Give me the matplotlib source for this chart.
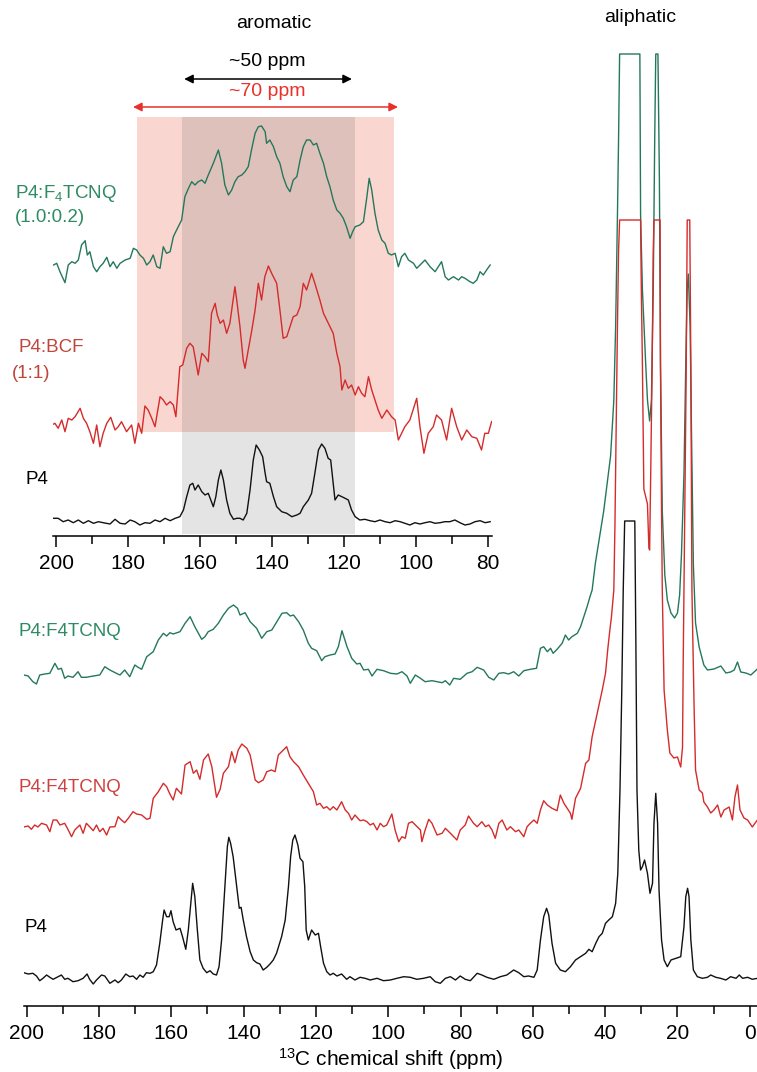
import numpy as np
import matplotlib
matplotlib.use("Agg")
import matplotlib.pyplot as plt
from matplotlib.ticker import MultipleLocator

plt.rcParams['font.family'] = ['Liberation Sans', 'DejaVu Sans']
plt.rcParams['mathtext.fontset'] = 'custom'
plt.rcParams['mathtext.rm'] = 'Liberation Sans'
plt.rcParams['mathtext.it'] = 'Liberation Sans:italic'

# ---- main spectra: (ppm, intensity above own baseline) ----
main_green = [
    (200.8, 0), (199.6, -1), (198.3, -6.7), (197.3, -9), (196.4, 0), (195.0, 1), (193.6, 1.7), (192.2, 11.7),
    (191.3, 5.7), (190.4, 6.7), (189.5, -3.3), (188.6, -1), (187.2, -2.3), (185.8, 3.3), (184.9, -2.3),
    (183.5, -2.3), (181.6, -1), (179.8, 0), (178.4, 8.3), (177.0, 5), (175.2, 1.7), (174.2, 0), (172.9, 5),
    (171.5, -1.7), (170.1, 10), (169.2, 7.7), (168.2, 5.7), (166.8, 18.3), (165.0, 23.3), (163.6, 35),
    (162.2, 41.7), (161.3, 39), (160.4, 42.3), (159.5, 41), (157.6, 43.3), (156.2, 51.7), (154.8, 58.3),
    (153.5, 48.3), (151.6, 35.7), (150.7, 38.3), (149.8, 43.3), (148.4, 45.7), (147.0, 51.7), (145.6, 60),
    (144.2, 66.7), (142.8, 70), (141.7, 66.7), (141.0, 60), (139.6, 62.3), (138.2, 53.3), (136.4, 46.7),
    (135.0, 36.7), (133.6, 43.3), (132.2, 45), (130.8, 53.3), (129.4, 61.7), (128.1, 62.3), (127.1, 59),
    (126.2, 60), (124.8, 53.3), (123.5, 45), (122.1, 31.7), (121.2, 26.7), (119.8, 24.3), (118.4, 14.3),
    (117.5, 18.3), (116.1, 20), (114.7, 21), (113.8, 28.3), (112.8, 44.3), (111.4, 28.3), (110.1, 16.7),
    (108.7, 11), (107.8, 11.7), (106.8, 5), (105.5, 5.7), (104.5, -1), (103.1, 5.7), (101.3, 4.3), (99.4, 1.7),
    (97.6, 1), (96.2, 3.3), (94.8, -1), (93.9, -8.3), (92.5, 0), (91.1, -3.3), (89.8, -6.7), (87.9, -5.7),
    (86.5, -6.7), (85.1, -7.7), (84.2, -5.7), (83.0, -10), (81.9, -3.3), (80.1, -4.3), (78.2, 1.7), (76.8, 3.3),
    (75.4, 7.7), (73.6, 5), (72.2, -2.3), (70.8, -5), (69.4, 1.7), (68.1, 2.3), (66.7, 1), (65.3, 3.3),
    (63.9, -1), (62.5, 4.3), (60.7, 5.7), (59.0, 6.7), (57.9, 26.7), (57.0, 28.3), (56.0, 23.3), (55.1, 26.7),
    (54.4, 21.7), (53.3, 25.7), (51.9, 31.7), (51.0, 40), (50.1, 35), (49.2, 38.3), (47.7, 41.7), (46.8, 48.3),
    (45.9, 58.3), (45.0, 68.3), (44.2, 78.3), (43.6, 85), (42.7, 112), (40.4, 164), (38.5, 219), (37.6, 275),
    (37.1, 349), (36.6, 460), (36.3, 534), (36.0, 621), (30.4, 621), (30.2, 460), (29.7, 386), (28.8, 312),
    (28.3, 275), (27.7, 254), (27.2, 275), (26.7, 386), (26.3, 534), (26.0, 621), (25.4, 621), (25.0, 497),
    (24.7, 312), (24.2, 164), (23.5, 100), (22.8, 75), (21.8, 62), (20.8, 57), (20.0, 62), (19.4, 80),
    (18.9, 120), (18.2, 201), (17.7, 312), (17.3, 386), (17.0, 401), (16.5, 349), (16.1, 238), (15.6, 110),
    (15.0, 52), (14.0, 28), (12.7, 10), (11.7, 5), (9.9, 6), (8.0, 9), (6.6, 2), (5.3, 3), (4.3, 5), (3.4, 13),
    (2.5, 3), (1.1, 2), (-0.3, 0), (-2.1, 6),
]

main_red = [
    (200.8, 0), (199.6, 1), (198.7, -2.3), (197.8, 2), (196.9, 0), (195.9, 3.7), (194.5, 2), (193.6, -4.7),
    (192.7, 7), (191.7, 7), (190.8, 2), (189.5, 3.7), (188.6, -2.3), (187.6, -9.7), (186.7, -3), (185.3, 2),
    (184.4, -6.3), (183.5, 3.7), (182.6, 0.3), (181.6, -3.7), (180.7, 2), (179.8, -4.7), (178.9, -1.3),
    (177.9, -8), (177.0, 0), (175.6, 0.3), (174.7, 10.3), (173.8, 7), (172.9, 4.3), (171.9, 8.7), (170.6, 15.3),
    (169.6, 13), (168.2, 12), (166.8, 7.7), (165.9, 8.7), (165.0, 28.7), (163.6, 35.3), (162.2, 43.7),
    (161.3, 40.3), (160.4, 33), (159.5, 27), (158.6, 38.7), (157.2, 33), (156.2, 62), (154.8, 65.3),
    (153.9, 53.7), (153.0, 57), (152.1, 47.7), (151.1, 67), (149.8, 73), (148.8, 60.3), (147.5, 29.7),
    (146.5, 37.7), (145.6, 53.7), (144.2, 60.3), (143.3, 75.3), (142.4, 64.3), (141.5, 77), (140.5, 83),
    (139.1, 78.7), (138.2, 72), (136.8, 47), (135.9, 44.3), (134.6, 47), (133.6, 55.3), (132.3, 57),
    (131.3, 55.3), (130.4, 72), (129.5, 75.3), (128.1, 80.3), (127.2, 70.3), (126.2, 65.3), (124.8, 60.3),
    (123.5, 52), (122.1, 43.7), (120.7, 35.3), (119.8, 22), (118.9, 23.7), (117.9, 18.7), (117.0, 20.3),
    (116.1, 17), (115.2, 20.3), (114.2, 17), (112.9, 25.3), (111.9, 17), (111.0, 13.7), (110.1, 7), (109.2, 12),
    (107.8, 6.3), (106.8, 7), (105.9, 5.3), (105.0, 2), (104.1, 3.7), (103.1, -3), (102.2, 3.7), (101.3, 0.3),
    (100.4, 2), (99.0, 13), (98.1, -3), (97.1, -14.7), (96.2, -9.7), (95.3, -11.3), (94.4, 3.7), (93.4, 5.3),
    (92.5, 2), (91.1, -3), (90.7, -14.7), (89.8, -3), (88.8, 7.7), (87.9, 3.7), (86.5, -8), (85.1, -6.3),
    (84.2, -1.3), (82.8, -6.3), (81.0, -13), (80.1, -3), (78.7, 2), (77.8, 11), (76.4, 3.7), (75.4, 0.3),
    (74.1, 5.3), (73.1, 0.3), (72.2, 2), (71.3, -3), (70.4, -11.3), (69.4, 3.7), (68.5, 7), (67.2, -3),
    (66.2, 0.3), (64.8, -4.7), (63.9, -3), (62.5, -9.7), (61.6, 0.3), (60.7, 3.7), (59.7, 7), (58.8, 3.7),
    (57.9, 17), (57.0, 26.3), (56.0, 22), (54.7, 18.7), (53.3, 16.3), (52.4, 32), (51.4, 23.7), (50.5, 18.7),
    (49.6, 13.7), (49.2, 7.7), (48.2, 28.7), (46.8, 38.7), (45.4, 63.7), (44.5, 67), (43.6, 90.3), (42.6, 107),
    (41.7, 122), (40.8, 137), (39.9, 153.7), (39.3, 177), (38.7, 197), (38.3, 208.7), (37.6, 237), (37.3, 300),
    (37.0, 390), (36.6, 501), (36.3, 575), (36.0, 607), (30.2, 607), (30.0, 538), (29.7, 464), (29.3, 338),
    (28.3, 323), (27.9, 279), (27.7, 277), (27.4, 353), (27.0, 464), (26.7, 575), (26.5, 607), (24.8, 607),
    (24.7, 464), (24.4, 316), (24.2, 237), (23.7, 137), (22.8, 97), (22.1, 74), (21.0, 69), (20.0, 70),
    (19.1, 60), (18.6, 80), (18.4, 170), (18.2, 237), (17.6, 450), (17.3, 607), (16.6, 607), (16.3, 464),
    (16.0, 237), (15.4, 120), (15.0, 57), (14.0, 37), (13.1, 34), (12.7, 25), (11.7, 20), (10.8, 14), (9.9, 17),
    (8.9, 22), (8.0, 10), (7.1, 17), (5.7, 20), (4.8, 7), (4.1, 30), (3.4, 42), (2.7, 17), (1.6, 9), (0.6, 7),
    (-0.7, 0), (-2.1, 7),
]

main_black = [
    (200.8, 2.3), (199.6, 1), (198.3, 1.7), (197.3, -1), (196.4, -5.7), (195.5, -3.3), (194.5, 0), (193.6, -2.3),
    (192.7, -4.3), (191.3, -1.7), (190.4, 0), (189.5, -4.3), (188.6, -3.3), (187.2, -6.7), (185.8, -5.7),
    (184.4, -3.3), (183.3, 1), (182.6, -4.3), (181.6, -9), (180.7, -5), (179.3, 0), (178.4, -1), (177.0, -8.3),
    (175.6, -5), (174.7, -7.7), (173.8, -5), (172.6, 1), (171.5, -1.7), (170.6, -1), (169.6, -4.3), (168.7, 0),
    (167.8, -2.3), (166.9, 2.3), (165.9, 1.7), (165.0, 3.3), (164.1, 10), (163.2, 31.7), (162.4, 55), (162.0, 65),
    (161.3, 58.3), (160.6, 58.3), (160.1, 64.3), (159.5, 53.3), (158.7, 45), (157.6, 46.7), (156.9, 38.3),
    (156.0, 25.7), (155.3, 45), (154.6, 71.7), (154.1, 91.7), (153.5, 78.3), (152.8, 45), (152.1, 15),
    (151.2, 6.7), (150.2, 2.3), (149.3, 4.3), (148.4, 1), (147.5, 0), (146.8, 8.3), (146.1, 35), (145.2, 88.3),
    (144.5, 128.3), (144.1, 137.7), (143.6, 131.7), (142.9, 118.3), (141.9, 88.3), (141.2, 66.7), (140.7, 67.7),
    (140.1, 55), (139.2, 38.3), (138.2, 23.3), (137.3, 15), (136.4, 12.3), (135.5, 11), (134.6, 5), (133.6, 7.7),
    (132.7, 11), (131.8, 15), (130.9, 21.7), (129.5, 38.3), (128.5, 55), (127.6, 88.3), (127.0, 118.3),
    (126.4, 135), (125.8, 140), (125.0, 130), (124.4, 116.7), (123.6, 113.3), (123.1, 88.3), (122.7, 45),
    (122.1, 35), (121.2, 45), (120.2, 40), (119.3, 41.7), (118.7, 28.3), (117.9, 11.7), (117.0, 3.3), (116.1, 0),
    (115.2, 1.7), (114.2, -1), (112.9, 1), (111.5, -4.3), (110.6, -1.7), (109.2, -5), (107.8, -2.3), (106.4, -3.3),
    (105.0, -5), (103.1, -3.3), (101.3, -5.7), (99.4, -5), (97.6, -3.3), (95.7, -1.7), (93.9, -2.3), (92.1, -4.3),
    (90.2, -3.3), (88.4, -1.7), (87.0, -6.7), (85.6, -8.3), (84.2, -3.3), (82.8, -1.7), (81.4, -5), (80.1, -1),
    (78.7, -4.3), (77.3, -5.7), (75.4, 1.7), (74.1, 0), (72.7, -2.3), (70.8, -4.3), (69.0, -1.7), (67.2, 0),
    (65.3, 5), (63.9, 2.3), (62.5, -1.7), (61.2, -1), (59.7, -2.3), (58.8, 5), (57.9, 35), (57.0, 58.3),
    (56.2, 66.7), (55.6, 60), (54.7, 31.7), (53.7, 11.7), (52.4, 5), (51.0, 3.3), (49.6, 8.3), (48.2, 15),
    (46.8, 18.3), (45.4, 21.7), (44.5, 25.7), (43.6, 23.3), (42.6, 31.7), (41.7, 38.3), (40.8, 41.7),
    (39.9, 51.7), (39.0, 55), (38.0, 58.3), (37.1, 71.7), (36.5, 101.7), (35.9, 185), (35.4, 285), (35.0, 385),
    (34.6, 454), (31.8, 454), (31.5, 330), (31.2, 185), (30.7, 125), (30.2, 105), (29.7, 108.3), (29.1, 115),
    (28.3, 101.7), (27.6, 81.7), (26.9, 91.7), (26.5, 151.7), (26.0, 181.7), (25.5, 151.7), (25.1, 85),
    (24.4, 35), (23.7, 15), (22.8, 8.3), (21.8, 15), (20.4, 16.7), (19.1, 18.3), (18.2, 48.3), (17.7, 78.3),
    (17.2, 86.7), (16.8, 78.3), (16.3, 35), (15.6, 5), (14.5, -1.7), (13.1, -3.3), (11.7, -2.3), (10.8, 0),
    (9.4, -2.3), (8.1, -3.3), (6.6, -5), (5.3, -1.7), (3.8, -3.3), (2.9, 0), (2.0, -3.3), (0.6, -2.3),
    (-0.7, -4.3), (-2.1, -3.3),
]

# ---- inset (aromatic zoom) spectra ----
inset_green = [
    (200.7, 0), (199.8, 1.7), (198.9, -6.7), (197.5, -17.7), (196.6, 0), (195.6, 3.3), (194.7, 1.7), (193.8, 5),
    (192.9, 20), (191.9, 24.3), (191.3, 10), (190.6, 13.3), (189.6, -1.7), (188.7, -6.7), (187.8, -1.7),
    (186.9, 1.7), (185.9, 7.7), (185.0, -1.7), (184.1, 3.3), (183.1, -3.3), (182.2, 1.7), (180.8, 5), (179.4, 6.7),
    (178.5, 16.7), (177.6, 15), (176.7, 10), (175.7, 6.7), (174.8, 0), (173.9, 3.3), (173.0, 10), (172.0, -1.7),
    (171.1, -3.3), (170.2, 18.3), (169.3, 11.7), (168.3, 13.3), (167.4, 28.3), (166.5, 35), (165.1, 45),
    (164.2, 68.3), (163.2, 76.7), (162.3, 83.3), (161.4, 80), (160.5, 83.3), (159.5, 85), (158.6, 81.7),
    (157.7, 90), (156.3, 101.7), (154.9, 115), (154.0, 101.7), (153.1, 80), (152.1, 70), (151.2, 75),
    (150.3, 83.3), (149.4, 88.3), (148.4, 90), (147.5, 93.3), (146.6, 98.3), (145.6, 116.7), (144.7, 131.7),
    (143.8, 138.3), (142.9, 139), (141.9, 133.3), (141.5, 121.7), (140.6, 125), (139.6, 118.3), (138.7, 108.3),
    (137.8, 101.7), (136.9, 88.3), (135.9, 78.3), (135.0, 73.3), (134.1, 85), (133.1, 88.3), (132.2, 105),
    (131.3, 118.3), (130.4, 125), (129.4, 125), (128.5, 120), (127.6, 121.7), (126.7, 111.7), (125.7, 101.7),
    (124.8, 88.3), (123.9, 78.3), (123.0, 65), (122.0, 55), (121.1, 51.7), (120.2, 46.7), (119.3, 38.3),
    (118.3, 26.7), (117.6, 33.3), (116.9, 38.3), (115.6, 40), (114.6, 43.3), (113.7, 66.7), (113.0, 86.7),
    (112.3, 75), (111.4, 51.7), (110.5, 35), (109.5, 25), (108.6, 21.7), (107.7, 11.7), (106.8, 10),
    (105.8, 11.7), (104.9, -1.7), (104.0, 8.3), (103.1, 11.7), (102.1, 5), (100.7, 1.7), (99.8, -3.3),
    (98.4, 1.7), (97.5, 5), (96.1, -1.7), (94.7, -6.7), (93.8, -1.7), (92.9, 3.3), (91.9, -11.7), (91.0, -15),
    (89.6, -11.7), (88.2, -15), (87.3, -11.7), (86.4, -13.3), (85.0, -16.7), (84.1, -18.3), (83.1, -15),
    (82.2, -6.7), (81.3, -10), (80.4, -5), (79.4, 0),
]

inset_red = [
    (201.2, 0), (200.3, 1.7), (199.4, -3.3), (198.4, 5), (197.5, -6.7), (196.6, 6.7), (195.6, 5), (194.7, 8.3),
    (193.3, 16.7), (192.4, 6.7), (191.5, 1.7), (190.6, -6.7), (189.6, -18.3), (188.7, 0), (187.8, -21.7),
    (186.9, -8.3), (185.9, 1.7), (184.8, 7.7), (183.6, -5), (182.7, -1.7), (181.8, 3.3), (180.4, -6.7),
    (179.0, 0), (178.1, -18.3), (177.1, 1.7), (176.2, -8.3), (175.3, 19), (174.4, 15), (173.4, 6.7),
    (172.5, -1.7), (171.1, 28.3), (170.2, 25), (169.3, 20), (168.3, 23.3), (167.4, 20), (166.7, 8.3),
    (165.6, 58.3), (164.8, 60), (163.7, 76.7), (162.8, 81.7), (161.9, 78.3), (160.9, 58.3), (160.5, 50),
    (159.5, 71.7), (158.6, 68.3), (157.7, 63.3), (156.8, 111.7), (155.8, 121.7), (155.2, 110), (154.4, 101.7),
    (153.5, 105), (152.6, 91.7), (151.7, 101.7), (150.3, 138.3), (149.8, 125), (148.9, 98.3), (148.0, 65),
    (147.5, 56.7), (146.6, 75), (145.6, 95), (144.7, 115), (143.8, 141.7), (142.9, 125), (142.0, 148.3),
    (141.0, 159), (140.1, 151.7), (138.7, 141.7), (137.8, 115), (136.9, 86.7), (135.9, 88.3), (135.0, 98.3),
    (134.1, 108.3), (133.1, 110), (132.2, 118.3), (131.3, 141.7), (130.4, 135), (129.0, 151.7), (128.1, 141.7),
    (126.7, 125), (125.7, 111.7), (124.8, 105), (123.0, 91.7), (122.0, 71.7), (121.1, 58.3), (120.6, 35),
    (119.7, 45), (118.8, 36.7), (117.9, 40), (116.9, 30), (116.0, 38.3), (115.1, 31.7), (114.2, 28.3),
    (113.2, 48.3), (112.3, 35), (111.4, 25), (110.5, 15), (109.5, 6.7), (108.1, 15), (106.8, 8.3), (105.8, 5),
    (104.9, -15), (104.0, -8.3), (103.1, -1.7), (101.7, 5), (99.8, 26.7), (98.9, -1.7), (97.8, -28.3),
    (96.6, -8.3), (95.2, -1.7), (94.3, 10), (92.9, 5), (91.5, -15), (90.1, 16.7), (88.7, -1.7), (87.3, -15),
    (85.9, -5), (84.5, -11.7), (83.1, -13.3), (81.8, -25), (80.9, -8.3), (79.9, -8.3), (79.0, 3.3),
]

inset_black = [
    (200.7, 1.7), (199.4, 1.7), (198.0, -1.7), (196.6, 0), (195.2, -2.7), (193.8, 0), (192.4, -3.3), (191.0, -0.7),
    (189.6, -3.3), (188.2, -1.7), (186.9, -2.7), (185.0, -4), (183.6, 0.7), (182.2, -3.3), (180.8, -4), (179.4, 0),
    (178.1, -1.7), (176.7, -5), (175.3, -2.7), (173.9, -3.3), (172.5, 0), (171.1, -1.7), (169.7, 1.7),
    (168.3, -0.7), (166.9, 1.7), (165.6, 3.3), (164.6, 10), (163.7, 23.3), (162.8, 35), (162.0, 36.7),
    (161.4, 30), (160.5, 35), (159.5, 28.3), (158.6, 25), (157.7, 26.7), (157.0, 20), (156.3, 13.3),
    (155.6, 23.3), (154.9, 40), (154.2, 50), (153.5, 40), (152.6, 20), (151.7, 6.7), (150.7, 0.7), (149.8, 1.7),
    (148.9, 1.7), (148.0, 0), (147.0, 6.7), (146.1, 30), (145.2, 60), (144.4, 75), (143.5, 70), (142.6, 63.3),
    (141.9, 46.7), (141.5, 38.3), (140.6, 36.7), (139.6, 23.3), (138.7, 13.3), (137.3, 8.3), (135.9, 6.7),
    (134.5, 3.3), (133.1, 5), (132.2, 6.7), (131.3, 13.3), (129.9, 20), (129.0, 26.7), (128.1, 46.7),
    (127.1, 70), (126.2, 76), (125.3, 71.7), (124.4, 61.7), (123.7, 60), (123.1, 40), (122.5, 20), (121.6, 25),
    (120.6, 23.3), (119.7, 21.7), (118.8, 20), (117.9, 10), (116.9, 3.3), (115.6, 0), (114.2, 0.7),
    (112.8, -0.7), (111.4, -1.7), (110.0, 0), (108.6, -1.7), (107.2, -2.7), (105.8, -0.7), (104.4, -1.7),
    (103.1, -3.3), (101.7, -5), (100.3, -2.7), (98.9, -4), (97.5, -2.7), (96.1, -1.7), (94.7, -3.3),
    (93.3, -2.7), (92.0, -1.7), (90.6, -1.7), (89.2, 0), (87.8, -2.7), (86.4, -5), (85.0, -4), (83.6, -1.7),
    (82.2, -0.7), (80.8, -2.7), (79.4, -1.7),
]

main_offsets = {"green": 331, "red": 179, "black": 31}
inset_offsets = {"green": 271, "red": 111, "black": 16}

c_green = "#24785a"
c_green_txt = "#2e8b62"
c_red = "#d42b2b"
c_red_txt = "#cf4040"
c_bcf_txt = "#c0453a"

W, H = 757, 1072
fig = plt.figure(figsize=(W / 100, H / 100), dpi=100)


def fx(px):
    return px / W


def fy(py):
    return 1 - py / H


def style_axis(ax, labelsize=15):
    for s in ["left", "right", "top"]:
        ax.spines[s].set_visible(False)
    ax.spines["bottom"].set_linewidth(1.1)
    ax.set_yticks([])
    ax.xaxis.set_minor_locator(MultipleLocator(10))
    ax.tick_params(axis="x", which="major", direction="out", length=8, width=1.1,
                   labelsize=labelsize, pad=5)
    ax.tick_params(axis="x", which="minor", direction="out", length=5.5, width=1.1)
    ax.patch.set_alpha(0)


# main axes
ax = fig.add_axes([fx(24), 1 - 1006 / H, fx(757 - 24), 1006 / H])
ax.set_xlim(200.75, -2.0)
ax.set_ylim(0, 1006)
style_axis(ax)
ax.set_xticks(np.arange(200, -1, -20))
ax.set_xlabel(r"$^{13}$C chemical shift (ppm)", fontsize=15, labelpad=2)

for data, key, col in [(main_green, "green", c_green), (main_red, "red", c_red),
                       (main_black, "black", "#111111")]:
    x, y = np.array(data).T
    ax.plot(x, y + main_offsets[key], color=col, lw=1.0)

# inset axes (aromatic region)
axi = fig.add_axes([fx(53.3), 1 - 536 / H, fx(491.6 - 53.3), 536 / H])
axi.set_xlim(200.75, 79.0)
axi.set_ylim(0, 536)
style_axis(axi)
axi.set_xticks(np.arange(200, 79, -20))

# shaded windows
axi.fill_between([177.5, 106], 104, 419, color="#fad6d1", lw=0, zorder=0)
axi.fill_between([165, 117], 2, 104, color="#e4e4e4", lw=0, zorder=0)
axi.fill_between([165, 117], 104, 419, color="#dfc1bc", lw=0, zorder=0)

for data, key, col in [(inset_green, "green", c_green), (inset_red, "red", c_red),
                       (inset_black, "black", "#111111")]:
    x, y = np.array(data).T
    axi.plot(x, y + inset_offsets[key], color=col, lw=1.0, zorder=2)

# width arrows
axi.annotate("", xy=(117.8, 457), xytext=(164.4, 457),
             arrowprops=dict(arrowstyle="<|-|>", color="black", lw=1.1,
                             mutation_scale=13, shrinkA=0, shrinkB=0))
axi.annotate("", xy=(105.0, 429), xytext=(178.6, 429),
             arrowprops=dict(arrowstyle="<|-|>", color="#e8312a", lw=1.1,
                             mutation_scale=13, shrinkA=0, shrinkB=0))
axi.text(141.2, 475, "~50 ppm", ha="center", va="center", fontsize=14, color="black")
axi.text(141.2, 444, "~70 ppm", ha="center", va="center", fontsize=14, color="#e8312a")

# region titles
fig.text(fx(274), fy(23), "aromatic", ha="center", va="center", fontsize=14)
fig.text(fx(640), fy(18), "aliphatic", ha="center", va="center", fontsize=14)

# trace labels (inset)
fig.text(fx(15), fy(193), r"P4:F$_4$TCNQ", ha="left", va="center", fontsize=13.5, color=c_green_txt)
fig.text(fx(15), fy(217), "(1.0:0.2)", ha="left", va="center", fontsize=13.5, color=c_green_txt)
fig.text(fx(18), fy(348), "P4:BCF", ha="left", va="center", fontsize=13.5, color=c_bcf_txt)
fig.text(fx(12), fy(373), "(1:1)", ha="left", va="center", fontsize=13.5, color=c_bcf_txt)
fig.text(fx(25), fy(480), "P4", ha="left", va="center", fontsize=13.5, color="black")

# trace labels (main)
fig.text(fx(18), fy(632), "P4:F4TCNQ", ha="left", va="center", fontsize=13.5, color=c_green_txt)
fig.text(fx(18), fy(787), "P4:F4TCNQ", ha="left", va="center", fontsize=13.5, color=c_red_txt)
fig.text(fx(24), fy(927), "P4", ha="left", va="center", fontsize=13.5, color="black")

fig.savefig("out.png", dpi=100)
